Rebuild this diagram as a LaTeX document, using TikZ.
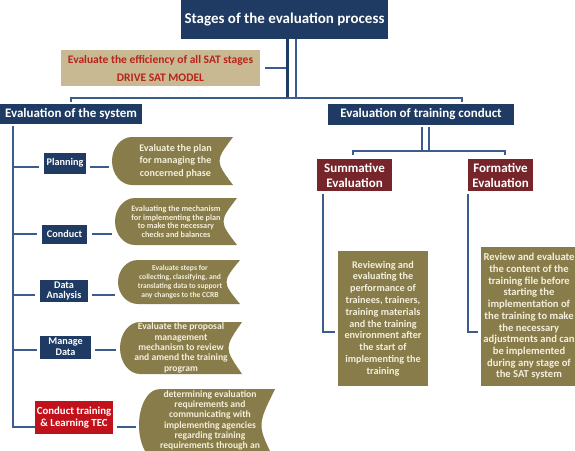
\documentclass[tikz,border=0pt]{standalone}
\usepackage{fontspec}
\setmainfont{Carlito}
\usetikzlibrary{calc}
\definecolor{navyc}{HTML}{1F3B63}
\definecolor{maroonc}{HTML}{76262A}
\definecolor{olivec}{HTML}{877C4A}
\definecolor{tanc}{HTML}{C9B992}
\definecolor{redtext}{HTML}{B5241B}
\definecolor{redbox}{HTML}{C1121C}
\definecolor{creamc}{HTML}{F4EFDC}
\definecolor{lineblue}{HTML}{3B5C8C}
\newcommand{\fsz}[2]{\fontsize{#1}{#2}\selectfont\bfseries}
\tikzset{
  box/.style={inner sep=0pt, align=center},
  navybox/.style={box, fill=navyc, text=white},
  maroonbox/.style={box, fill=maroonc, text=white},
  bodybox/.style={box, fill=olivec, text=creamc},
  conn/.style={draw=lineblue, line width=2pt},
  oliveshape/.style={box, text=creamc,
    path picture={
      \fill[olivec] ([xshift=20pt]path picture bounding box.north west)
        -- (path picture bounding box.north east)
        .. controls ([xshift=-18pt]path picture bounding box.east) .. (path picture bounding box.south east)
        -- ([xshift=20pt]path picture bounding box.south west)
        .. controls ([xshift=9pt]path picture bounding box.south west) and ($(path picture bounding box.west)!0.552!(path picture bounding box.south west)$) .. (path picture bounding box.west)
        .. controls ($(path picture bounding box.west)!0.552!(path picture bounding box.north west)$) and ([xshift=9pt]path picture bounding box.north west) .. cycle;
    }}
}
\begin{document}
\begin{tikzpicture}[x=1pt,y=-1pt]
\useasboundingbox[fill=white] (0,0) rectangle (575,450);

% top
\node[navybox, minimum width=207, minimum height=39, font=\fsz{15}{17}] (title) at (284.5,19.5) {Stages of the evaluation process};
\node[box, fill=tanc, text=redtext, minimum width=199, minimum height=36, font=\fsz{11.5}{18}] (tan) at (160.5,68) {Evaluate the efficiency of all SAT stages\\DRIVE SAT MODEL};
\node[navybox, minimum width=142, minimum height=20, font=\fsz{13}{15}] (sys) at (71,114) {Evaluation of the system};
\node[navybox, minimum width=186, minimum height=21, font=\fsz{13}{15}] (trc) at (421,114.5) {Evaluation of training conduct};

\draw[draw=navyc, line width=3pt] ([xshift=2.5pt]title.south) -- ++(0,59);
\draw[conn, line width=1.8pt] ([xshift=11.5pt]title.south) -- ++(0,59);
\draw[conn] ([xshift=5pt]tan.east) -- ++(21,0);
\coordinate (bL) at (71,102);
\coordinate (bR) at (462,102);
\draw[conn] (bL) -- ++(0,-4) -| (bR);

% right side
\node[maroonbox, minimum width=75, minimum height=32, font=\fsz{13}{15}] (summ) at (354.5,175) {Summative\\Evaluation};
\node[maroonbox, minimum width=65, minimum height=32, font=\fsz{13}{15}] (form) at (500.5,175) {Formative\\Evaluation};
\draw[conn] ([xshift=1pt]trc.south) ++(0,2) -- ++(0,24);
\draw[conn] ([xshift=8pt]trc.south) ++(0,2) -- ++(0,24);
\coordinate (cL) at (353,155);
\coordinate (cR) at (505,155);
\draw[conn] (cL) -- ++(0,-4) -| (cR);

\node[bodybox, minimum width=90, minimum height=135, font=\fsz{10.2}{11.8}] (sbody) at (383,318.5) {Reviewing and\\evaluating the\\performance of\\trainees, trainers,\\training materials\\and the training\\environment after\\the start of\\implementing the\\training};
\node[bodybox, minimum width=96, minimum height=139, font=\fsz{10.6}{11.7}] (fbody) at (529,316.5) {Review and evaluate\\the content of the\\training file before\\starting the\\implementation of\\the training to make\\the necessary\\adjustments and can\\be implemented\\during any stage of\\the SAT system};

\draw[conn] ([xshift=6pt,yshift=-3pt]summ.south west) |- ([xshift=-3pt,yshift=-13.5pt]sbody.west);
\draw[conn] ([yshift=-3pt]form.south west) |- ([xshift=-3pt,yshift=-15.5pt]fbody.west);

% left column
\node[navybox, minimum width=42, minimum height=21, font=\fsz{10.2}{11}] (plan) at (65,163) {Planning};
\node[navybox, minimum width=45, minimum height=19, font=\fsz{10.2}{11}] (cond) at (64.5,234) {Conduct};
\node[navybox, minimum width=48, minimum height=22, font=\fsz{10.2}{10.5}] (data) at (64,291) {Data\\Analysis};
\node[navybox, minimum width=51, minimum height=23, font=\fsz{10.2}{11}] (mng) at (65.5,347) {Manage\\Data};
\node[box, fill=redbox, text=white, minimum width=78, minimum height=33, font=\fsz{10.8}{11.5}] (ctl) at (74,417.5) {Conduct training\\\& Learning TEC};

\node[oliveshape, minimum width=121, minimum height=48, font=\fsz{10.1}{12.5}] (o1) at (172.5,161) {\hspace*{6pt}Evaluate the plan\\\hspace*{6pt}for managing the\\\hspace*{6pt}concerned phase};
\node[oliveshape, minimum width=122, minimum height=47, font=\fsz{8.2}{8.7}] (o2) at (176,221.5) {Evaluating the mechanism\\for implementing the plan\\to make the necessary\\checks and balances};
\node[oliveshape, minimum width=122, minimum height=44, font=\fsz{7.6}{9.3}] (o3) at (179,282) {\hspace*{2pt}Evaluate steps for\\\hspace*{2pt}collecting, classifying, and\\\hspace*{2pt}translating data to support\\\hspace*{2pt}any changes to the CCRB};
\node[oliveshape, minimum width=122, minimum height=52, font=\fsz{9.6}{10.3}] (o4) at (181,348) {Evaluate the proposal\\management\\mechanism to review\\and amend the training\\program};
\node[oliveshape, minimum width=136, minimum height=72, anchor=north] (o5) at (207,389) {};
\node[box, text=creamc, font=\fsz{9.6}{10.2}] (o5t) at (210,420.5) {determining evaluation\\requirements and\\communicating with\\implementing agencies\\regarding training\\requirements through an};

\coordinate (vtop) at (13,126);
\coordinate (vbot) at (13,427);
\draw[conn] (vtop) -- (vbot) -- (vbot -| ctl.west);

\coordinate (r1) at (13,166.5);
\coordinate (r2) at (13,234);
\coordinate (r3) at (13,295);
\coordinate (r4) at (13,350);
\draw[conn] (r1) -- ($(r1 -| plan.west)+(-5,0)$);
\draw[conn] ($(r1 -| plan.east)+(4,0)$) -- ($(r1 -| o1.west)+(-3,0)$);
\draw[conn] (r2) -- ($(r2 -| cond.west)+(-5,0)$);
\draw[conn] ($(r2 -| cond.east)+(5,0)$) -- ($(r2 -| o2.west)+(-3,0)$);
\draw[conn] (r3) -- ($(r3 -| data.west)+(-5,0)$);
\draw[conn] ($(r3 -| data.east)+(4,0)$) -- ($(r3 -| o3.west)+(-3,0)$);
\draw[conn] (r4) -- ($(r4 -| mng.west)+(-3,0)$);
\draw[conn] ($(r4 -| mng.east)+(4,0)$) -- ($(r4 -| o4.west)+(-4,0)$);
\draw[conn] ($(vbot -| ctl.east)+(4,0)$) -- ($(vbot -| o5.west)+(-3,0)$);
\end{tikzpicture}
\end{document}
